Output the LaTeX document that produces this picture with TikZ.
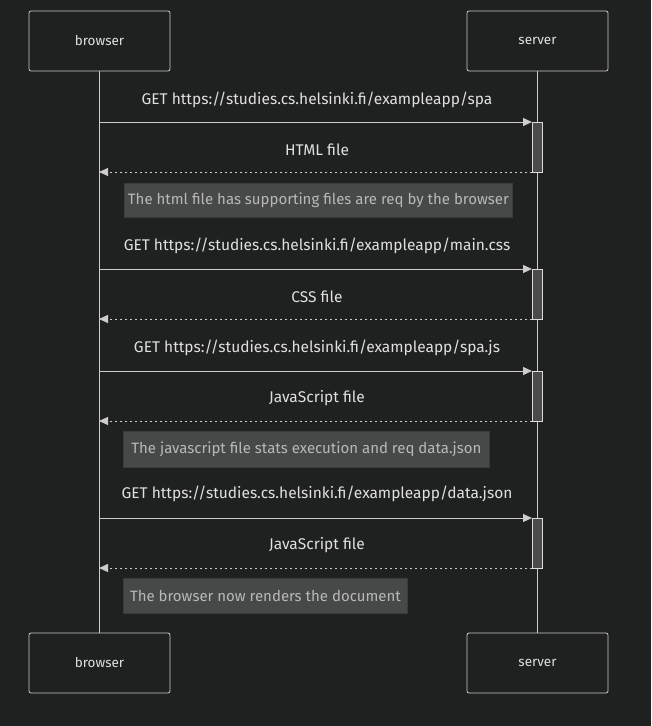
\documentclass[tikz,border=0pt]{standalone}
\usepackage{fontspec}
\setmainfont{Fira Sans}
\usetikzlibrary{arrows.meta}
\definecolor{bg}{HTML}{1F2020}
\definecolor{edge}{HTML}{CCCCCC}
\definecolor{txt}{HTML}{E0E0E0}
\definecolor{notefill}{HTML}{474949}
\definecolor{noteedge}{HTML}{3A3B3B}
\definecolor{notetxt}{HTML}{B8B8B8}
\definecolor{actfill}{HTML}{4B4B4B}
\tikzset{
  actor/.style={draw=edge, fill=bg, rounded corners=2pt, minimum width=141pt, minimum height=60pt, text=txt, font=\fontsize{13.5}{15}\selectfont, line width=0.8pt},
  life/.style={draw=edge, line width=0.9pt},
  act/.style={draw=edge!70, fill=actfill, line width=0.7pt},
  msg/.style={draw=edge, line width=0.9pt, -{Triangle[length=9pt,width=8pt]}},
  reply/.style={msg, dash pattern=on 2.5pt off 2.5pt},
  mlabel/.style={text=txt, font=\fontsize{15.5}{17}\selectfont, inner sep=0pt},
  note/.style={fill=notefill, draw=noteedge, line width=0.8pt, text=notetxt, font=\fontsize{15}{17}\selectfont, inner sep=0pt, anchor=west}
}
\begin{document}
\begin{tikzpicture}[x=1pt,y=-1pt]
\fill[bg] (0,0) rectangle (651,726);
\useasboundingbox (0,0) rectangle (651,726);
% lifelines
\coordinate (bt) at (99,71); \coordinate (bb) at (99,633);
\coordinate (st) at (537,71); \coordinate (sb) at (537,633);
\draw[life] (bt) -- (bb);
\draw[life] (st) -- (sb);
% actors
\node[actor] (b1) at (99.5,41) {browser};
\node[actor] (s1) at (537.5,41) {server};
\node[actor] (b2) at (99.5,663) {browser};
\node[actor] (s2) at (537.5,663) {server};
% activations
\foreach \y/\n in {122/a1,269/a2,371/a3,518/a4}{
  \draw[act] (532,\y) rectangle (542,\y+50);
  \coordinate (\n t) at (532,\y);
  \coordinate (\n b) at (532,\y+50);
  \coordinate (\n bl) at (99,\y);
  \coordinate (\n br) at (99,\y+50);
}
% messages
\draw[msg] (a1bl) -- (a1t);
\node[mlabel] (l1) at (317,100) {GET https://studies.cs.helsinki.fi/exampleapp/spa};
\draw[reply] (a1b) -- (a1br);
\node[mlabel] (l2) at (317,150) {HTML file};
\node[note, minimum width=388pt, minimum height=34pt] (n1) at (124,200) {The html file has supporting files are req by the browser};

\draw[msg] (a2bl) -- (a2t);
\node[mlabel] (l3) at (317,246) {GET https://studies.cs.helsinki.fi/exampleapp/main.css};
\draw[reply] (a2b) -- (a2br);
\node[mlabel] (l4) at (317,297) {CSS file};

\draw[msg] (a3bl) -- (a3t);
\node[mlabel] (l5) at (317,348) {GET https://studies.cs.helsinki.fi/exampleapp/spa.js};
\draw[reply] (a3b) -- (a3br);
\node[mlabel] (l6) at (317,398) {JavaScript file};
\node[note, minimum width=366pt, minimum height=36pt] (n2) at (123,449) {The javascript file stats execution and req data.json};

\draw[msg] (a4bl) -- (a4t);
\node[mlabel] (l7) at (317,494) {GET https://studies.cs.helsinki.fi/exampleapp/data.json};
\draw[reply] (a4b) -- (a4br);
\node[mlabel] (l8) at (317,545) {JavaScript file};
\node[note, minimum width=284pt, minimum height=35pt] (n3) at (123,596) {The browser now renders the document};
\end{tikzpicture}
\end{document}
